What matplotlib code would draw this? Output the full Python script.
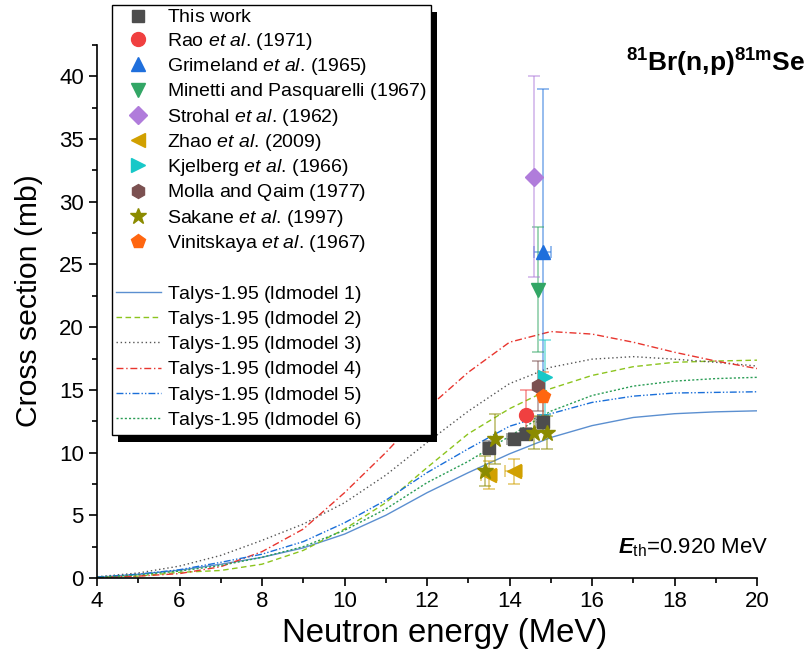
import matplotlib
matplotlib.use('Agg')
import matplotlib.pyplot as plt
from matplotlib.lines import Line2D
from matplotlib.patches import Rectangle

plt.rcParams['font.family'] = ['Liberation Sans', 'DejaVu Sans']
plt.rcParams['mathtext.fontset'] = 'custom'
plt.rcParams['mathtext.rm'] = 'Liberation Sans'
plt.rcParams['mathtext.it'] = 'Liberation Sans:italic'
plt.rcParams['mathtext.bf'] = 'Liberation Sans:bold'
plt.rcParams['mathtext.bfit'] = 'Liberation Sans:bold:italic'

# Talys-1.95 curves (MeV, mb)
talys_E = [4, 5, 6, 7, 8, 9, 10, 11, 12, 13, 14, 15, 16, 17, 18, 19, 20]
ld1 = [0.05, 0.3, 0.62, 1.1, 1.65, 2.4, 3.5, 5.0, 6.8, 8.4, 9.9, 11.2, 12.15, 12.8, 13.1, 13.25, 13.33]
ld2 = [0.05, 0.15, 0.45, 0.6, 1.1, 2.2, 3.9, 6.0, 8.8, 11.5, 13.5, 15.1, 16.15, 16.85, 17.2, 17.3, 17.37]
ld3 = [0.1, 0.4, 0.95, 1.8, 3.0, 4.3, 6.0, 8.2, 10.8, 13.3, 15.5, 16.8, 17.45, 17.65, 17.45, 17.2, 16.9]
ld4 = [0.05, 0.15, 0.35, 0.9, 2.1, 3.9, 6.8, 10.0, 13.5, 16.4, 18.8, 19.65, 19.45, 18.8, 18.0, 17.3, 16.7]
ld5 = [0.08, 0.3, 0.66, 1.25, 1.9, 2.9, 4.4, 6.2, 8.4, 10.3, 12.1, 13.1, 14.0, 14.5, 14.75, 14.8, 14.85]
ld6 = [0.05, 0.25, 0.55, 1.0, 1.65, 2.5, 3.8, 5.5, 7.6, 9.3, 11.3, 13.3, 14.55, 15.3, 15.7, 15.9, 16.0]

# experimental data: E, sigma, dsigma, dE
work_E = [13.5, 14.1, 14.4, 14.8]
work_s = [10.4, 11.1, 11.5, 12.4]
work_ds = [0.5, 0.5, 0.5, 0.6]
work_dE = [0.15, 0.15, 0.15, 0.15]

rao_E, rao_s, rao_ds = [14.4], [13.0], [2.0]
grim_E, grim_s, grim_ds, grim_dE = [14.8], [26.0], [13.0], [0.2]
min_E, min_s, min_ds = [14.7], [23.0], [5.0]
stro_E, stro_s, stro_ds = [14.6], [32.0], [8.0]
zhao_E, zhao_s, zhao_ds, zhao_dE = [13.5, 14.1], [8.2, 8.5], [1.1, 1.0], [0.2, 0.2]
kjel_E, kjel_s, kjel_ds = [14.85], [16.0], [3.0]
molla_E, molla_s, molla_ds = [14.7], [15.3], [2.0]
sak_E = [13.4, 13.65, 14.6, 14.9]
sak_s = [8.5, 11.1, 11.6, 11.6]
sak_ds = [1.2, 2.0, 1.3, 1.3]
vin_E, vin_s, vin_ds = [14.8], [14.5], [1.9]

SP = '$\\mathrm{\\ }$'   # keeps every legend row the same (mathtext) height


def fit(txt, target, renderer, vertical=False):
    bb = txt.get_window_extent(renderer)
    size = bb.height if vertical else bb.width
    txt.set_fontsize(txt.get_fontsize() * target / size)


def main():
    fig = plt.figure(figsize=(8.07, 6.62), dpi=100)
    ax = fig.add_axes([97/807, 1-578/662, 660/807, 533/662])

    talys = [(ld1, '#5b8fd0', '-', 'Talys-1.95 (ldmodel 1)'),
             (ld2, '#8cc41e', (0, (4, 2.5)), 'Talys-1.95 (ldmodel 2)'),
             (ld3, '#555555', (0, (1, 2)), 'Talys-1.95 (ldmodel 3)'),
             (ld4, '#e8352e', (0, (5, 2, 1, 2)), 'Talys-1.95 (ldmodel 4)'),
             (ld5, '#1a6fd9', (0, (5, 1.5, 1, 1.5, 1, 1.5)), 'Talys-1.95 (ldmodel 5)'),
             (ld6, '#2a9d55', (0, (1.5, 1.5)), 'Talys-1.95 (ldmodel 6)')]
    line_handles = []
    for ys, c, ls, lab in talys:
        h, = ax.plot(talys_E, ys, color=c, ls=ls, lw=1.0, zorder=1.5, label=lab + SP)
        line_handles.append(h)

    exp = [(work_E, work_s, work_ds, work_dE, 's', '#4d4d4d', 'This work', 8.5),
           (rao_E, rao_s, rao_ds, None, 'o', '#f04040', 'Rao $\\mathit{et\\ al}$. (1971)', 10),
           (grim_E, grim_s, grim_ds, grim_dE, '^', '#1f6fdc', 'Grimeland $\\mathit{et\\ al}$. (1965)', 10),
           (min_E, min_s, min_ds, None, 'v', '#32a665', 'Minetti and Pasquarelli (1967)', 10),
           (stro_E, stro_s, stro_ds, None, 'D', '#b07cdb', 'Strohal $\\mathit{et\\ al}$. (1962)', 9.5),
           (zhao_E, zhao_s, zhao_ds, zhao_dE, '<', '#d1a000', 'Zhao $\\mathit{et\\ al}$. (2009)', 10),
           (kjel_E, kjel_s, kjel_ds, None, '>', '#17c8c8', 'Kjelberg $\\mathit{et\\ al}$. (1966)', 10),
           (molla_E, molla_s, molla_ds, None, 'h', '#7b5151', 'Molla and Qaim (1977)', 10),
           (sak_E, sak_s, sak_ds, None, '*', '#8b8b00', 'Sakane $\\mathit{et\\ al}$. (1997)', 12),
           (vin_E, vin_s, vin_ds, None, 'p', '#ff6610', 'Vinitskaya $\\mathit{et\\ al}$. (1967)', 10)]
    marker_handles = []
    for i, (xs, ys, dys, dxs, m, c, lab, ms) in enumerate(exp):
        ax.errorbar(xs, ys, yerr=dys, xerr=dxs, fmt='none', ecolor=c, alpha=0.55,
                    elinewidth=1.2, capsize=4, capthick=1.2, zorder=2 + i*0.01)
        ax.plot(xs, ys, ls='none', marker=m, color=c, ms=ms, mec=c, zorder=3 + i*0.01)
        if '$' not in lab:
            lab = lab + SP
        marker_handles.append(Line2D([], [], ls='none', marker=m, color=c, ms=ms, label=lab))

    blank = Line2D([], [], ls='none', label='(' + SP)
    handles = marker_handles + [blank] + line_handles
    leg = ax.legend(handles=handles, loc='upper left',
                    bbox_to_anchor=(112/807, 1-5/662), bbox_transform=fig.transFigure,
                    borderaxespad=0, fontsize=14, frameon=True, fancybox=False,
                    edgecolor='black', framealpha=1, borderpad=0.2,
                    labelspacing=0.22, handlelength=2.3, handletextpad=0.35)
    leg.get_texts()[10].set_alpha(0)
    leg.get_frame().set_linewidth(1.0)
    leg.set_zorder(5)

    ax.set_xlim(4, 20)
    ax.set_ylim(0, 42.5)
    ax.set_xticks(range(4, 21, 2))
    ax.set_xticks(range(5, 21, 2), minor=True)
    ax.set_yticks(range(0, 41, 5))
    ax.set_yticks([2.5 + 5*k for k in range(9)], minor=True)
    for s in ['top', 'right']:
        ax.spines[s].set_visible(False)
    for s in ['left', 'bottom']:
        ax.spines[s].set_linewidth(1.2)
    ax.tick_params(which='major', direction='out', length=6, width=1.2, labelsize=16)
    ax.tick_params(which='minor', direction='out', length=3.5, width=1.2)
    xl = ax.set_xlabel('Neutron energy (MeV)', fontsize=23, labelpad=3)
    yl = ax.set_ylabel('Cross section (mb)', fontsize=22, labelpad=6)
    ax.xaxis.set_label_coords((445 - 97) / 660, -0.075)
    ax.yaxis.set_label_coords((43 - 97) / 660, (578 - 301) / 533)

    title = ax.text((805 - 97) / 660, 0.967, '$^{\\mathbf{81}}$Br(n,p)$^{\\mathbf{81m}}$Se',
                    transform=ax.transAxes, ha='right', va='center', fontsize=18.5,
                    fontweight='bold')
    eth = ax.text((768 - 97) / 660, 0.056, '$\\mathbfit{E}_{\\mathrm{th}}$=0.920 MeV',
                  transform=ax.transAxes, ha='right', va='center', fontsize=16)

    fig.canvas.draw()
    r = fig.canvas.get_renderer()
    fit(title, 180, r)
    fit(eth, 151, r)
    fit(xl, 326, r)
    fit(yl, 252, r, vertical=True)
    fig.canvas.draw()

    bb = leg.get_window_extent()
    shadow = Rectangle((bb.x0 + 6, bb.y0 - 7), bb.width, bb.height, transform=None,
                       facecolor='black', edgecolor='none', zorder=4.9, clip_on=False)
    ax.add_artist(shadow)

    fig.savefig('out.png', dpi=100)


if __name__ == "__main__":
    main()
